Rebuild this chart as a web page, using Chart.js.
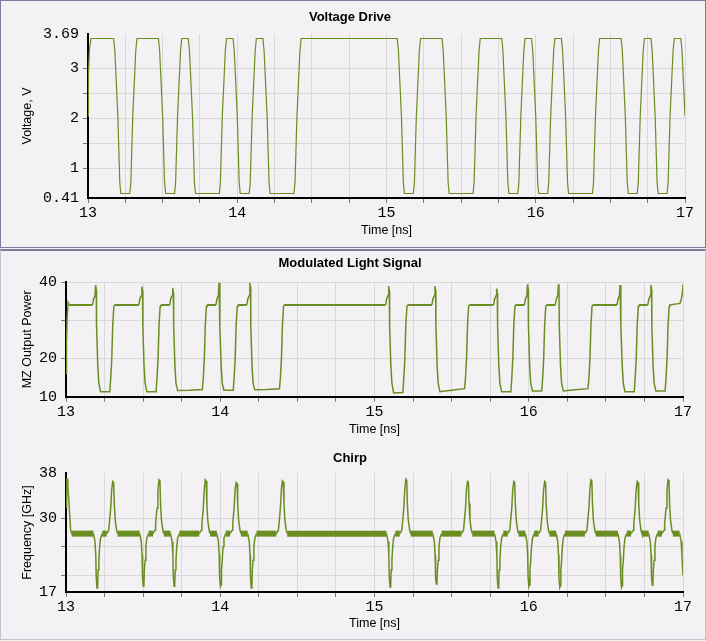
<!DOCTYPE html>
<html>
<head>
<meta charset="utf-8">
<script src="https://cdn.jsdelivr.net/npm/chart.js@4.4.1/dist/chart.umd.min.js"></script>
<style>
  body { margin: 0; background: #f3f1f4; width: 706px; height: 641px; overflow: hidden; position: relative; }
  .frame { position: absolute; box-sizing: border-box; }
  #f1 { left: 0; top: 0; width: 706px; height: 248px; border: 1px solid #7d7d9b; }
  #f2 { left: 0; top: 249px; width: 706px; height: 391px; border: 1px solid #c4c4ce; border-top: 2px solid #7d7d9b; }
  canvas { position: absolute; left: 0; }
  #c1 { top: 0; }
  #c2 { top: 250px; }
  #c3 { top: 440px; }
</style>
</head>
<body>
<div class="frame" id="f1"></div>
<div class="frame" id="f2"></div>
<canvas id="c1" width="706" height="247"></canvas>
<canvas id="c2" width="706" height="190"></canvas>
<canvas id="c3" width="706" height="200"></canvas>
<script>
// x axis (time, ns)
const timeTicks = [13, 13.25, 13.5, 13.75, 14, 14.25, 14.5, 14.75, 15, 15.25, 15.5, 15.75, 16, 16.25, 16.5, 16.75, 17];
const timeLabels = [13, 14, 15, 16, 17];

// y axes
const voltTicks = [0.41, 1, 1.5, 2, 2.5, 3, 3.69];
const voltLabels = [0.41, 1, 2, 3, 3.69];
const voltGrid = [1, 1.5, 2, 2.5, 3];

const powerTicks = [10, 20, 30, 40];
const powerLabels = [10, 20, 40];
const powerGrid = [20, 30, 40];

const freqTicks = [17, 20, 25, 30, 38];
const freqLabels = [17, 30, 38];
const freqGrid = [20, 25, 30];

// [time ns, volts]
const voltageDrive = [
  [13.000,2.05],[13.003,2.90],[13.010,3.40],[13.020,3.60],
  [13.172,3.60],[13.180,3.35],[13.200,2.05],[13.213,0.72],[13.220,0.50],
  [13.280,0.50],[13.287,0.72],[13.300,2.05],[13.320,3.35],[13.328,3.60],
  [13.472,3.60],[13.480,3.35],[13.500,2.05],[13.513,0.72],[13.520,0.50],
  [13.580,0.50],[13.587,0.72],[13.600,2.05],[13.620,3.35],[13.628,3.60],
  [13.672,3.60],[13.680,3.35],[13.700,2.05],[13.713,0.72],[13.720,0.50],
  [13.880,0.50],[13.887,0.72],[13.900,2.05],[13.920,3.35],[13.928,3.60],
  [13.972,3.60],[13.980,3.35],[14.000,2.05],[14.013,0.72],[14.020,0.50],
  [14.080,0.50],[14.087,0.72],[14.100,2.05],[14.120,3.35],[14.128,3.60],
  [14.172,3.60],[14.180,3.35],[14.200,2.05],[14.213,0.72],[14.220,0.50],
  [14.380,0.50],[14.387,0.72],[14.400,2.05],[14.420,3.35],[14.428,3.60],
  [15.072,3.60],[15.080,3.35],[15.100,2.05],[15.113,0.72],[15.120,0.50],
  [15.180,0.50],[15.187,0.72],[15.200,2.05],[15.220,3.35],[15.228,3.60],
  [15.372,3.60],[15.380,3.35],[15.400,2.05],[15.413,0.72],[15.420,0.50],
  [15.580,0.50],[15.587,0.72],[15.600,2.05],[15.620,3.35],[15.628,3.60],
  [15.772,3.60],[15.780,3.35],[15.800,2.05],[15.813,0.72],[15.820,0.50],
  [15.880,0.50],[15.887,0.72],[15.900,2.05],[15.920,3.35],[15.928,3.60],
  [15.972,3.60],[15.980,3.35],[16.000,2.05],[16.013,0.72],[16.020,0.50],
  [16.080,0.50],[16.087,0.72],[16.100,2.05],[16.120,3.35],[16.128,3.60],
  [16.172,3.60],[16.180,3.35],[16.200,2.05],[16.213,0.72],[16.220,0.50],
  [16.380,0.50],[16.387,0.72],[16.400,2.05],[16.420,3.35],[16.428,3.60],
  [16.572,3.60],[16.580,3.35],[16.600,2.05],[16.613,0.72],[16.620,0.50],
  [16.680,0.50],[16.687,0.72],[16.700,2.05],[16.720,3.35],[16.728,3.60],
  [16.772,3.60],[16.780,3.35],[16.800,2.05],[16.813,0.72],[16.820,0.50],
  [16.880,0.50],[16.887,0.72],[16.900,2.05],[16.920,3.35],[16.928,3.60],
  [16.972,3.60],[16.980,3.35],[17.000,2.05]
];

// [time ns, MZ output power]
const lightSignal = [
  [13.000,16.0],[13.003,24.0],[13.008,31.3],[13.014,34.6],[13.020,34.0],
  [13.172,34.0],[13.179,35.6],[13.188,36.4],[13.192,39.2],[13.196,38.0],[13.198,28.7],[13.206,18.0],[13.213,13.5],[13.224,11.3],
  [13.284,11.3],[13.290,14.9],[13.297,20.1],[13.303,28.7],[13.310,33.5],[13.314,34.0],
  [13.472,34.0],[13.479,35.6],[13.488,36.4],[13.492,38.8],[13.496,37.6],[13.498,28.7],[13.506,18.0],[13.513,13.5],[13.524,11.3],
  [13.584,11.3],[13.590,14.9],[13.597,20.1],[13.603,28.7],[13.610,33.5],[13.614,34.0],
  [13.672,34.0],[13.679,35.6],[13.688,36.4],[13.692,38.4],[13.696,37.2],[13.698,28.7],[13.706,18.0],[13.713,13.5],[13.724,11.6],
  [13.800,11.7],
  [13.884,11.9],[13.890,14.9],[13.897,20.1],[13.903,28.7],[13.910,33.5],[13.914,34.0],
  [13.972,34.0],[13.979,35.6],[13.988,36.4],[13.992,39.8],[13.996,38.6],[13.998,28.7],[14.006,18.0],[14.013,13.5],[14.024,11.7],
  [14.084,11.7],[14.090,14.9],[14.097,20.1],[14.103,28.7],[14.110,33.5],[14.114,34.0],
  [14.172,34.0],[14.179,35.6],[14.188,36.4],[14.192,39.8],[14.196,38.6],[14.198,28.7],[14.206,18.0],[14.213,13.5],[14.224,11.8],
  [14.300,11.9],
  [14.384,12.1],[14.390,14.9],[14.397,20.1],[14.403,28.7],[14.410,33.5],[14.414,34.0],
  [15.072,34.0],[15.079,35.6],[15.088,36.4],[15.092,38.9],[15.096,37.7],[15.098,28.7],[15.106,18.0],[15.113,13.5],[15.124,11.0],
  [15.184,11.1],[15.190,14.9],[15.197,20.1],[15.203,28.7],[15.210,33.5],[15.214,34.0],
  [15.372,34.0],[15.379,35.6],[15.388,36.4],[15.392,38.9],[15.396,37.7],[15.398,28.7],[15.406,18.0],[15.413,13.5],[15.424,11.3],
  [15.500,11.7],
  [15.584,12.1],[15.590,14.9],[15.597,20.1],[15.603,28.7],[15.610,33.5],[15.614,34.0],
  [15.772,34.0],[15.779,35.6],[15.788,36.4],[15.792,38.3],[15.796,37.1],[15.798,28.7],[15.806,18.0],[15.813,13.5],[15.824,11.3],
  [15.884,11.3],[15.890,14.9],[15.897,20.1],[15.903,28.7],[15.910,33.5],[15.914,34.0],
  [15.972,34.0],[15.979,35.6],[15.988,36.4],[15.992,39.4],[15.996,38.2],[15.998,28.7],[16.006,18.0],[16.013,13.5],[16.024,11.5],
  [16.084,11.5],[16.090,14.9],[16.097,20.1],[16.103,28.7],[16.110,33.5],[16.114,34.0],
  [16.172,34.0],[16.179,35.6],[16.188,36.4],[16.192,39.4],[16.196,38.2],[16.198,28.7],[16.206,18.0],[16.213,13.5],[16.224,11.5],
  [16.300,11.8],
  [16.384,12.1],[16.390,14.9],[16.397,20.1],[16.403,28.7],[16.410,33.5],[16.414,34.0],
  [16.572,34.0],[16.579,35.6],[16.588,36.4],[16.592,39.2],[16.596,38.0],[16.598,28.7],[16.606,18.0],[16.613,13.5],[16.624,11.3],
  [16.684,11.3],[16.690,14.9],[16.697,20.1],[16.703,28.7],[16.710,33.5],[16.714,34.0],
  [16.772,34.0],[16.779,35.6],[16.788,36.4],[16.792,39.2],[16.796,38.0],[16.798,28.7],[16.806,18.0],[16.813,13.5],[16.824,11.5],
  [16.884,11.5],[16.890,14.9],[16.897,20.1],[16.903,28.7],[16.910,33.5],[16.914,34.0],
  [16.980,34.4],[16.990,35.6],[16.996,37.0],[17.000,39.3]
];
const lightHigh = 34.0;

// [time ns, frequency GHz]
const chirp = [
  [13.000,32.0],[13.004,36.9],[13.008,36.9],[13.012,35.6],[13.019,32.9],[13.030,27.9],[13.036,27.3],
  [13.178,27.3],[13.188,25.9],[13.193,23.5],[13.196,19.5],[13.201,17.7],[13.205,18.0],[13.208,20.9],[13.213,22.6],[13.218,25.0],[13.224,26.5],[13.235,27.3],
  [13.264,27.3],[13.277,27.9],[13.281,29.1],[13.290,31.8],[13.296,35.0],[13.303,36.5],[13.309,36.3],[13.313,32.6],[13.319,29.7],[13.328,27.9],[13.334,27.3],
  [13.478,27.3],[13.488,25.9],[13.493,23.5],[13.496,19.5],[13.501,18.0],[13.505,18.3],[13.508,20.9],[13.513,22.6],[13.518,25.0],[13.524,26.5],[13.535,27.3],
  [13.564,27.3],[13.577,27.9],[13.581,29.1],[13.590,31.8],[13.596,35.0],[13.603,36.8],[13.609,36.6],[13.613,32.6],[13.619,29.7],[13.628,27.9],[13.634,27.3],
  [13.678,27.3],[13.688,25.9],[13.693,23.5],[13.696,19.5],[13.701,18.0],[13.705,18.3],[13.708,20.9],[13.713,22.6],[13.718,25.0],[13.724,26.5],[13.735,27.3],
  [13.864,27.3],[13.877,27.9],[13.881,29.1],[13.890,31.8],[13.896,35.0],[13.903,36.8],[13.909,36.6],[13.913,32.6],[13.919,29.7],[13.928,27.9],[13.934,27.3],
  [13.978,27.3],[13.988,25.9],[13.993,23.5],[13.996,19.5],[14.001,18.0],[14.005,18.3],[14.008,20.9],[14.013,22.6],[14.018,25.0],[14.024,26.5],[14.035,27.3],
  [14.064,27.3],[14.077,27.9],[14.081,29.1],[14.090,31.8],[14.096,35.0],[14.103,36.3],[14.109,36.1],[14.113,32.6],[14.119,29.7],[14.128,27.9],[14.134,27.3],
  [14.178,27.3],[14.188,25.9],[14.193,23.5],[14.196,19.5],[14.201,17.7],[14.205,18.0],[14.208,20.9],[14.213,22.6],[14.218,25.0],[14.224,26.5],[14.235,27.3],
  [14.364,27.3],[14.377,27.9],[14.381,29.1],[14.390,31.8],[14.396,35.0],[14.403,36.6],[14.409,36.4],[14.413,32.6],[14.419,29.7],[14.428,27.9],[14.434,27.3],
  [15.078,27.3],[15.088,25.9],[15.093,23.5],[15.096,19.5],[15.101,17.9],[15.105,18.2],[15.108,20.9],[15.113,22.6],[15.118,25.0],[15.124,26.5],[15.135,27.3],
  [15.164,27.3],[15.177,27.9],[15.181,29.1],[15.190,31.8],[15.196,35.0],[15.203,36.9],[15.209,36.7],[15.213,32.6],[15.219,29.7],[15.228,27.9],[15.234,27.3],
  [15.378,27.3],[15.388,25.9],[15.393,23.5],[15.396,19.5],[15.401,18.4],[15.405,18.7],[15.408,20.9],[15.413,22.6],[15.418,25.0],[15.424,26.5],[15.435,27.3],
  [15.564,27.3],[15.577,27.9],[15.581,29.1],[15.590,31.8],[15.596,35.0],[15.603,36.5],[15.609,36.3],[15.613,32.6],[15.619,29.7],[15.628,27.9],[15.634,27.3],
  [15.778,27.3],[15.788,25.9],[15.793,23.5],[15.796,19.5],[15.801,17.7],[15.805,18.0],[15.808,20.9],[15.813,22.6],[15.818,25.0],[15.824,26.5],[15.835,27.3],
  [15.864,27.3],[15.877,27.9],[15.881,29.1],[15.890,31.8],[15.896,35.0],[15.903,36.5],[15.909,36.3],[15.913,32.6],[15.919,29.7],[15.928,27.9],[15.934,27.3],
  [15.978,27.3],[15.988,25.9],[15.993,23.5],[15.996,19.5],[16.001,18.0],[16.005,18.3],[16.008,20.9],[16.013,22.6],[16.018,25.0],[16.024,26.5],[16.035,27.3],
  [16.064,27.3],[16.077,27.9],[16.081,29.1],[16.090,31.8],[16.096,35.0],[16.103,36.5],[16.109,36.3],[16.113,32.6],[16.119,29.7],[16.128,27.9],[16.134,27.3],
  [16.178,27.3],[16.188,25.9],[16.193,23.5],[16.196,19.5],[16.201,17.8],[16.205,18.1],[16.208,20.9],[16.213,22.6],[16.218,25.0],[16.224,26.5],[16.235,27.3],
  [16.364,27.3],[16.377,27.9],[16.381,29.1],[16.390,31.8],[16.396,35.0],[16.403,36.8],[16.409,36.6],[16.413,32.6],[16.419,29.7],[16.428,27.9],[16.434,27.3],
  [16.578,27.3],[16.588,25.9],[16.593,23.5],[16.596,19.5],[16.601,17.8],[16.605,18.1],[16.608,20.9],[16.613,22.6],[16.618,25.0],[16.624,26.5],[16.635,27.3],
  [16.664,27.3],[16.677,27.9],[16.681,29.1],[16.690,31.8],[16.696,35.0],[16.703,36.5],[16.709,36.3],[16.713,32.6],[16.719,29.7],[16.728,27.9],[16.734,27.3],
  [16.778,27.3],[16.788,25.9],[16.793,23.5],[16.796,19.5],[16.801,18.2],[16.805,18.5],[16.808,20.9],[16.813,22.6],[16.818,25.0],[16.824,26.5],[16.835,27.3],
  [16.864,27.3],[16.877,27.9],[16.881,29.1],[16.890,31.8],[16.896,35.0],[16.903,36.8],[16.909,36.6],[16.913,32.6],[16.919,29.7],[16.928,27.9],[16.934,27.3],
  [16.978,27.3],[16.988,25.9],[16.993,23.5],[16.997,21.5],[17.000,19.9]
];
const chirpBaseline = 27.3;

const olive = '#6b8e23';
const gridColor = '#d9d9d9';
const tickMark = '#7a7a7a';
const none = 'rgba(0,0,0,0)';
const tickFont = { family: 'Liberation Mono', size: 15 };
const axisFont = { family: 'Liberation Sans', size: 12.5 };

function makePanel(id, p) {
  return new Chart(document.getElementById(id), {
    type: 'line',
    data: {
      datasets: [{
        data: p.points.map(d => ({ x: d[0], y: d[1] })),
        borderColor: olive,
        borderWidth: p.lineWidth,
        pointRadius: 0,
        tension: 0,
        fill: false,
        segment: p.segment || {}
      }]
    },
    options: {
      responsive: false,
      animation: false,
      devicePixelRatio: 1,
      events: [],
      layout: { padding: { left: 0, right: 6, top: 0, bottom: 0 } },
      plugins: {
        legend: { display: false },
        tooltip: { enabled: false },
        title: {
          display: true,
          text: p.title,
          color: '#000',
          font: { family: 'Liberation Sans', size: 13, weight: 'bold' },
          padding: p.titlePad
        }
      },
      scales: {
        x: {
          type: 'linear',
          min: 13,
          max: 17,
          afterBuildTicks: s => { s.ticks = timeTicks.map(v => ({ value: v })); },
          afterFit: s => { s.height = p.xHeight; },
          ticks: {
            autoSkip: false,
            maxRotation: 0,
            padding: 1,
            color: '#000',
            font: tickFont,
            callback: v => timeLabels.includes(v) ? String(v) : ''
          },
          grid: {
            color: c => (c.tick && c.tick.value === 13) ? none : gridColor,
            tickColor: tickMark,
            tickLength: 5
          },
          border: { color: '#000', width: 2 },
          title: {
            display: true,
            text: 'Time [ns]',
            color: '#000',
            font: axisFont,
            padding: { top: 0, bottom: p.xTitlePad }
          }
        },
        y: {
          type: 'linear',
          min: p.yMin,
          max: p.yMax,
          afterBuildTicks: s => { s.ticks = p.yTicks.map(v => ({ value: v })); },
          afterFit: s => { s.width = p.yWidth; },
          ticks: {
            autoSkip: false,
            padding: 4,
            color: '#000',
            font: tickFont,
            callback: v => p.yLabels.includes(v) ? String(v) : ''
          },
          grid: {
            color: c => (c.tick && p.yGrid.includes(c.tick.value)) ? gridColor : none,
            tickColor: c => (c.tick && p.yGrid.includes(c.tick.value)) ? tickMark : none,
            tickLength: 5
          },
          border: { color: '#000', width: 2 },
          title: {
            display: true,
            text: p.yTitle,
            color: '#000',
            font: axisFont,
            padding: { top: 20.5, bottom: 0 }
          }
        },
        yr: {
          type: 'linear',
          position: 'right',
          display: true,
          ticks: { display: false },
          grid: { display: false },
          border: { display: false },
          afterFit: s => { s.width = p.rightWidth; }
        }
      }
    }
  });
}

makePanel('c1', {
  title: 'Voltage Drive',
  titlePad: { top: 9.7, bottom: 8.7 },
  points: voltageDrive,
  lineWidth: 1.2,
  yMin: 0.41, yMax: 3.69,
  yTicks: voltTicks, yLabels: voltLabels, yGrid: voltGrid,
  yTitle: 'Voltage, V',
  yWidth: 88, rightWidth: 15,
  xHeight: 49, xTitlePad: 9
});

makePanel('c2', {
  title: 'Modulated Light Signal',
  titlePad: { top: 5.2, bottom: 11.2 },
  points: lightSignal,
  lineWidth: 1.5,
  segment: { borderWidth: c => (c.p0.parsed.y === lightHigh && c.p1.parsed.y === lightHigh) ? 2 : 1.5 },
  yMin: 10, yMax: 40,
  yTicks: powerTicks, yLabels: powerLabels, yGrid: powerGrid,
  yTitle: 'MZ Output Power',
  yWidth: 66, rightWidth: 17,
  xHeight: 43.3, xTitlePad: 2.5
});

makePanel('c3', {
  title: 'Chirp',
  titlePad: { top: 10.2, bottom: 7.2 },
  points: chirp,
  lineWidth: 1.5,
  segment: { borderWidth: c => (c.p0.parsed.y === chirpBaseline && c.p1.parsed.y === chirpBaseline) ? 6 : 1.5 },
  yMin: 17, yMax: 38,
  yTicks: freqTicks, yLabels: freqLabels, yGrid: freqGrid,
  yTitle: 'Frequency [GHz]',
  yWidth: 66, rightWidth: 17,
  xHeight: 48, xTitlePad: 8.5
});
</script>
</body>
</html>
